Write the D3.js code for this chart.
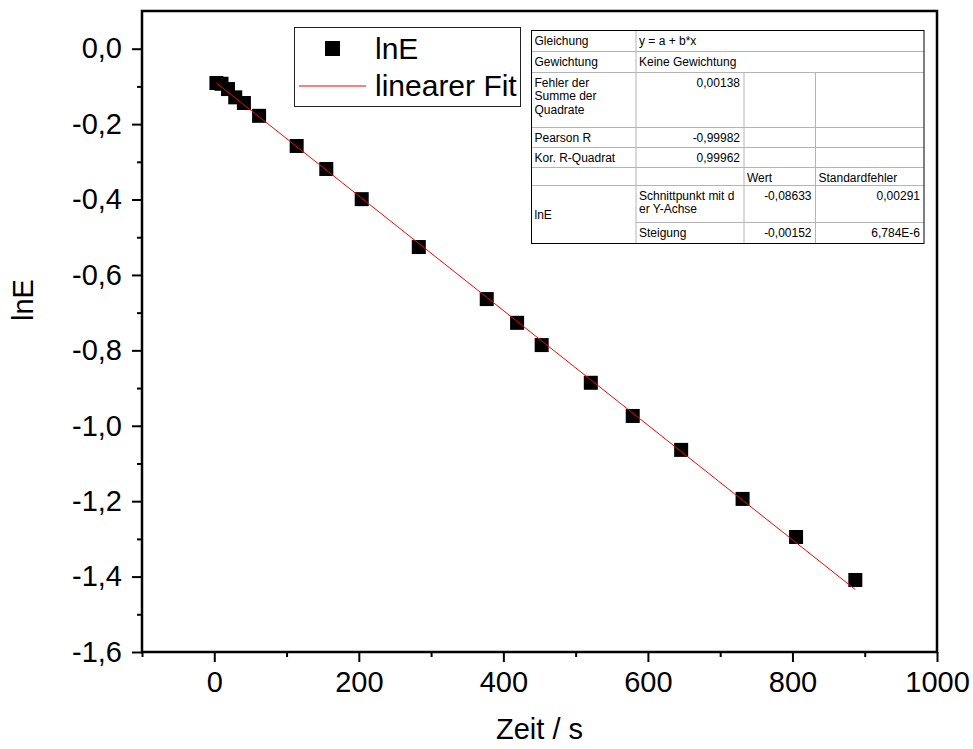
<!DOCTYPE html>
<html><head><meta charset="utf-8">
<script src="https://cdn.jsdelivr.net/npm/d3@7"></script>
<style>
html,body{margin:0;padding:0;background:#fff;}
svg{display:block;font-family:Arial,"Liberation Sans",sans-serif;}
</style></head>
<body><svg id="c" width="973" height="749"></svg>
<script>
// ---- data ----
const zeit = [3, 10, 19, 29, 41, 62, 114, 155, 204, 283, 377, 419, 453, 521, 579, 646, 731, 805, 887];
const lnE = [-0.091, -0.093, -0.107, -0.129, -0.144, -0.178, -0.258, -0.319, -0.399, -0.526, -0.664, -0.727, -0.786, -0.886, -0.974, -1.064, -1.194, -1.295, -1.409];
const fitIntercept = -0.08633;
const fitSlope = -0.00152;
const xMajorTicks = [0, 200, 400, 600, 800, 1000];
const xMinorTicks = [-100, 100, 300, 500, 700, 900];
const yMajorTicks = [0.0, -0.2, -0.4, -0.6, -0.8, -1.0, -1.2, -1.4, -1.6];
const yMinorTicks = [-0.1, -0.3, -0.5, -0.7, -0.9, -1.1, -1.3, -1.5];
const legendLabels = ["lnE", "linearer Fit"];
const tableRows = [
  ["Gleichung", "y = a + b*x"],
  ["Gewichtung", "Keine Gewichtung"],
  ["Fehler der\nSumme der\nQuadrate", "0,00138", "", ""],
  ["Pearson R", "-0,99982", "", ""],
  ["Kor. R-Quadrat", "0,99962", "", ""],
  ["", "", "Wert", "Standardfehler"],
  ["lnE", "Schnittpunkt mit d\ner Y-Achse", "-0,08633", "0,00291"],
  ["", "Steigung", "-0,00152", "6,784E-6"]
];

// ---- layout ----
const svg = d3.select("#c");
const L = 142, R = 937, T = 11, B = 652;
const x = d3.scaleLinear().domain([-100, 1000]).range([L, R]);
const y = d3.scaleLinear().domain([-1.6, 0.1]).range([B, T]);
const loc = d3.formatLocale({decimal: ",", thousands: ".", grouping: [3], currency: ["", "€"], minus: "-"});
const fy = loc.format(".1f");
const FS = 29;

// axes
const gx = svg.append("g").attr("transform", `translate(0,${B})`)
  .call(d3.axisBottom(x).tickValues(xMajorTicks).tickSize(10).tickPadding(9).tickFormat(d3.format("d")));
const gxm = svg.append("g").attr("transform", `translate(0,${B})`)
  .call(d3.axisBottom(x).tickValues(xMinorTicks).tickSize(5).tickFormat(""));
const gy = svg.append("g").attr("transform", `translate(${L},0)`)
  .call(d3.axisLeft(y).tickValues(yMajorTicks).tickSize(10).tickPadding(10).tickFormat(fy));
const gym = svg.append("g").attr("transform", `translate(${L},0)`)
  .call(d3.axisLeft(y).tickValues(yMinorTicks).tickSize(5).tickFormat(""));
[gx, gxm, gy, gym].forEach(g => {
  g.select(".domain").remove();
  g.selectAll("line").attr("stroke", "#000").attr("stroke-width", 2);
  g.selectAll("text").attr("fill", "#000").style("font-size", FS + "px").style("font-family", "Arial, 'Liberation Sans', sans-serif");
});

// frame
svg.append("rect").attr("x", L).attr("y", T).attr("width", R - L).attr("height", B - T)
  .attr("fill", "none").attr("stroke", "#000").attr("stroke-width", 2.5);

// axis titles
svg.append("text").attr("x", (L + R) / 2).attr("y", 739).attr("text-anchor", "middle")
  .style("font-size", FS + "px").text("Zeit / s");
svg.append("text").attr("transform", "translate(33,300) rotate(-90)").attr("text-anchor", "middle")
  .style("font-size", FS + "px").text("lnE");

// fit line
const xe = d3.extent(zeit);
function fitLine() {
  svg.append("line")
    .attr("x1", x(xe[0])).attr("y1", y(fitIntercept + fitSlope * xe[0]))
    .attr("x2", x(xe[1])).attr("y2", y(fitIntercept + fitSlope * xe[1]))
    .attr("stroke", "#ff0000").attr("stroke-width", 1);
}

// points
const S = 14;
svg.append("g").selectAll("rect").data(zeit.map((d, i) => [d, lnE[i]])).join("rect")
  .attr("x", d => x(d[0]) - S / 2).attr("y", d => y(d[1]) - S / 2)
  .attr("width", S).attr("height", S).attr("fill", "#000");
fitLine();

// legend
const lg = svg.append("g");
lg.append("rect").attr("x", 294.5).attr("y", 27.5).attr("width", 226).attr("height", 79)
  .attr("fill", "#fff").attr("stroke", "#222").attr("stroke-width", 1);
lg.append("rect").attr("x", 325).attr("y", 41).attr("width", 15).attr("height", 15).attr("fill", "#000");
lg.append("line").attr("x1", 299).attr("x2", 366).attr("y1", 86).attr("y2", 86).attr("stroke", "#ff0000").attr("stroke-width", 1);
lg.append("text").attr("x", 375).attr("y", 59).style("font-size", "30px").text(legendLabels[0]);
lg.append("text").attr("x", 375).attr("y", 96).style("font-size", "30px").text(legendLabels[1]);

// table
const tY = 30.5;
const colX = [531.5, 636, 744, 815.5, 924];
const rowH = [21, 21, 55, 20, 20, 18, 37, 21];
const rowY = [tY];
rowH.forEach((h, i) => rowY.push(rowY[i] + h));
const tg = svg.append("g");
tg.append("rect").attr("x", colX[0]).attr("y", tY).attr("width", colX[4] - colX[0]).attr("height", rowY[8] - tY)
  .attr("fill", "#fff");
const grid = "#b4b4b4";
for (let i = 1; i < 8; i++) {
  const x1 = (i === 7) ? colX[1] : colX[0];
  tg.append("line").attr("x1", x1).attr("x2", colX[4]).attr("y1", rowY[i]).attr("y2", rowY[i]).attr("stroke", grid);
}
tg.append("line").attr("x1", colX[1]).attr("x2", colX[1]).attr("y1", rowY[0]).attr("y2", rowY[8]).attr("stroke", grid);
tg.append("line").attr("x1", colX[2]).attr("x2", colX[2]).attr("y1", rowY[2]).attr("y2", rowY[8]).attr("stroke", grid);
tg.append("line").attr("x1", colX[3]).attr("x2", colX[3]).attr("y1", rowY[2]).attr("y2", rowY[8]).attr("stroke", grid);
tg.append("rect").attr("x", colX[0]).attr("y", tY).attr("width", colX[4] - colX[0]).attr("height", rowY[8] - tY)
  .attr("fill", "none").attr("stroke", "#000").attr("stroke-width", 1);

const TFS = 12;
function cellText(txt, col, row, align, vcenter) {
  if (!txt) return;
  const lines = txt.split("\n");
  let by = rowY[row] + 14;
  if (vcenter) by = rowY[row] + (rowH[row] + rowH[row + 1]) / 2 + 4;
  const xx = align === "end" ? colX[col + 1] - 4 : colX[col] + 3;
  const t = tg.append("text").attr("x", xx).attr("y", by).attr("text-anchor", align).style("font-size", TFS + "px").attr("fill", "#000");
  lines.forEach((l, k) => t.append("tspan").attr("x", xx).attr("dy", k === 0 ? 0 : 13.7).text(l));
}
tableRows.forEach((r, ri) => {
  r.forEach((c, ci) => {
    if (ri === 6 && ci === 0) { cellText(c, 0, 6, "start", true); return; }
    let align = "start";
    if (ci >= 1 && ri >= 2 && /^-?[0-9]/.test(c)) align = "end";
    cellText(c, ci, ri, align, false);
  });
});
</script>
</body></html>
